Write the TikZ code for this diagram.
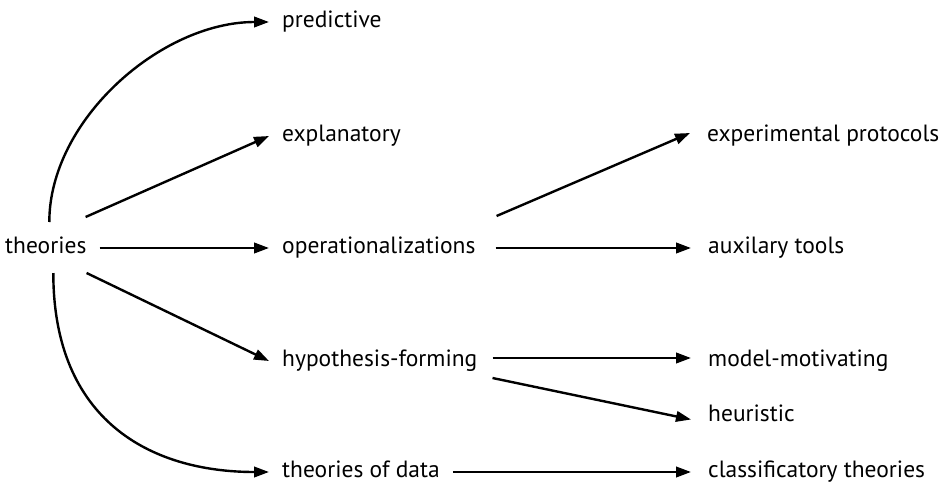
\documentclass[tikz,border=0pt]{standalone}
\usepackage{fontspec}
\setmainfont{PT Sans}
\usetikzlibrary{arrows.meta}
\begin{document}
\begin{tikzpicture}[x=1pt,y=-1pt,
  lbl/.style={anchor=base west,inner ysep=0pt,inner xsep=13pt,text height=10pt,text depth=0pt,
    font=\fontsize{23.5}{28}\selectfont},
  rlbl/.style={lbl,inner xsep=17pt},
  conn/.style={line width=2.4pt,-{Triangle[length=15pt,width=10.5pt]}}]
\useasboundingbox (0,0) rectangle (942,485);
% nodes (text start - inner xsep, baseline)
\node[lbl] (th) at (-8,253) {theories};
\node[lbl] (pred) at (269,27) {predictive};
\node[lbl] (expl) at (269,141) {explanatory};
\node[lbl] (oper) at (269,253) {operationalizations};
\node[lbl] (hyp) at (269,366) {hypothesis-forming};
\node[lbl] (tod) at (269,477) {theories of data};
\node[rlbl] (prot) at (690,141) {experimental protocols};
\node[rlbl] (aux) at (691,253) {auxilary tools};
\node[rlbl] (model) at (691,366) {model-motivating};
\node[rlbl] (heur) at (691,421) {heuristic};
\node[rlbl] (cls) at (691,477) {classificatory theories};
% connectors
\draw[conn] ([shift={(3.5,-31)}]th.base) .. controls +(0,-102) and +(-108,0) .. (pred.west);
\draw[conn] ([shift={(-14,-31)}]th.east) -- (expl.west);
\draw[conn] (th.east) -- (oper.west);
\draw[conn] ([shift={(-13,25)}]th.east) -- (hyp.west);
\draw[conn] ([shift={(7.5,20)}]th.base) .. controls +(0,147) and +(-119,0) .. (tod.west);
\draw[conn] ([shift={(8,-32)}]oper.east) -- ([shift={(0,-3)}]prot.west);
\draw[conn] ([shift={(7,0)}]oper.east) -- (aux.west);
\draw[conn] ([shift={(2,-3)}]hyp.east) -- ([shift={(0,-3)}]model.west);
\draw[conn] ([shift={(2,17)}]hyp.east) -- ([shift={(0,3.5)}]heur.west);
\draw[conn] (tod.east) -- (cls.west);
\end{tikzpicture}
\end{document}
